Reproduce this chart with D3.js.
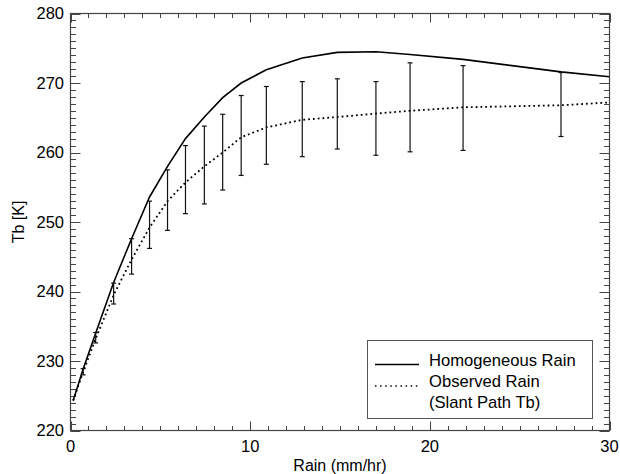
<!DOCTYPE html>
<html>
<head>
<meta charset="utf-8">
<script src="https://cdn.jsdelivr.net/npm/d3@7"></script>
<style>
  html, body { margin: 0; padding: 0; background: #fff; }
  svg { display: block; }
  text { font-family: "Liberation Sans", Arial, Helvetica, sans-serif; fill: #000; }
</style>
</head>
<body>
<svg id="chart" width="620" height="474"></svg>
<script>
// ---- data ----
const rain = [0.15, 0.7, 1.4, 2.4, 3.4, 4.4, 5.4, 6.4, 7.45, 8.47, 9.5, 10.9, 12.9, 14.85, 17.0, 18.9, 21.85, 27.3, 30];
const homogeneous = [224.3, 228.8, 234.0, 241.3, 247.6, 253.6, 258.0, 262.0, 265.1, 267.9, 270.0, 271.9, 273.6, 274.4, 274.5, 274.1, 273.4, 271.6, 270.9];
const observed = [224.3, 228.4, 233.2, 239.5, 244.6, 249.2, 253.0, 255.7, 258.0, 260.0, 262.2, 263.6, 264.7, 265.1, 265.6, 266.0, 266.5, 266.8, 267.2];

const errRain = [0.7, 1.4, 2.4, 3.4, 4.4, 5.4, 6.4, 7.45, 8.47, 9.5, 10.9, 12.9, 14.85, 17.0, 18.9, 21.85, 27.3];
const errHigh = [228.9, 234.1, 241.2, 247.6, 253.0, 257.5, 261.0, 263.8, 265.5, 268.2, 269.5, 270.2, 270.6, 270.2, 272.9, 272.5, 271.5];
const errLow  = [228.0, 232.6, 238.2, 242.5, 246.2, 248.8, 251.2, 252.6, 254.6, 256.7, 258.3, 259.4, 260.5, 259.6, 260.1, 260.3, 262.3];

const xTicks = [0, 10, 20, 30];
const yTicks = [220, 230, 240, 250, 260, 270, 280];
const legendLabels = ["Homogeneous Rain", "Observed Rain", "(Slant Path Tb)"];
const xTitle = "Rain (mm/hr)";
const yTitle = "Tb [K]";

// ---- layout ----
const svg = d3.select("#chart");
const L = 70.5, R = 609.5, T = 13.5, B = 430.5;
const x = d3.scaleLinear().domain([0, 30]).range([L, R]);
const y = d3.scaleLinear().domain([220, 280]).range([B, T]);
const frameColor = "#444";

// minor + major ticks on all four sides
const xMinor = d3.range(0, 31, 1);
const yMinor = d3.range(220, 281, 1);

function tickLen(v, majors, maj, min) { return majors.includes(v) ? maj : min; }

const g = svg.append("g");
// bottom
g.selectAll(".xb").data(xMinor).enter().append("line")
  .attr("x1", d => Math.round(x(d)) + 0.5).attr("x2", d => Math.round(x(d)) + 0.5)
  .attr("y1", B).attr("y2", d => B - tickLen(d, xTicks, 9, 4.5))
  .attr("stroke", frameColor).attr("stroke-width", 1);
// top
g.selectAll(".xt").data(xMinor).enter().append("line")
  .attr("x1", d => Math.round(x(d)) + 0.5).attr("x2", d => Math.round(x(d)) + 0.5)
  .attr("y1", T).attr("y2", d => T + tickLen(d, xTicks, 9, 4.5))
  .attr("stroke", frameColor).attr("stroke-width", 1);
// left
g.selectAll(".yl").data(yMinor).enter().append("line")
  .attr("y1", d => Math.round(y(d)) + 0.5).attr("y2", d => Math.round(y(d)) + 0.5)
  .attr("x1", L).attr("x2", d => L + tickLen(d, yTicks, 10, 5.5))
  .attr("stroke", frameColor).attr("stroke-width", 1);
// right
g.selectAll(".yr").data(yMinor).enter().append("line")
  .attr("y1", d => Math.round(y(d)) + 0.5).attr("y2", d => Math.round(y(d)) + 0.5)
  .attr("x1", R).attr("x2", d => R - tickLen(d, yTicks, 10, 5.5))
  .attr("stroke", frameColor).attr("stroke-width", 1);

// frame
svg.append("rect").attr("x", L).attr("y", T).attr("width", R - L).attr("height", B - T)
  .attr("fill", "none").attr("stroke", frameColor).attr("stroke-width", 1.2);

// tick labels
svg.selectAll(".xl").data(xTicks).enter().append("text")
  .attr("x", d => x(d)).attr("y", 452)
  .attr("text-anchor", "middle").attr("font-size", 16.5).text(d => d);
svg.selectAll(".ylab").data(yTicks).enter().append("text")
  .attr("x", 64).attr("y", d => y(d)).attr("dy", "0.36em")
  .attr("text-anchor", "end").attr("font-size", 16.5).text(d => d);

// axis titles
svg.append("text").attr("x", (L + R) / 2).attr("y", 471)
  .attr("text-anchor", "middle").attr("font-size", 16).text(xTitle);
svg.append("text").attr("transform", `translate(24,${(T + B) / 2}) rotate(-90)`)
  .attr("text-anchor", "middle").attr("font-size", 16).text(yTitle);

// lines
const line = d3.line().x(d => x(d[0])).y(d => y(d[1]));
svg.append("clipPath").attr("id", "plotclip")
  .append("rect").attr("x", L).attr("y", T).attr("width", R - L).attr("height", B - T);

svg.append("path").datum(rain.map((r, i) => [r, homogeneous[i]]))
  .attr("d", line).attr("fill", "none").attr("stroke", "#000").attr("stroke-width", 1.6)
  .attr("clip-path", "url(#plotclip)");
svg.append("path").datum(rain.map((r, i) => [r, observed[i]]))
  .attr("d", line).attr("fill", "none").attr("stroke", "#000").attr("stroke-width", 1.8)
  .attr("stroke-dasharray", "1.8,3").attr("clip-path", "url(#plotclip)");

// error bars
const eb = svg.append("g").attr("stroke", "#111").attr("stroke-width", 1.2);
errRain.forEach((r, i) => {
  const cx = x(r);
  eb.append("line").attr("x1", cx).attr("x2", cx).attr("y1", y(errHigh[i])).attr("y2", y(errLow[i]));
  eb.append("line").attr("x1", cx - 2.5).attr("x2", cx + 2.5).attr("y1", y(errHigh[i])).attr("y2", y(errHigh[i]));
  eb.append("line").attr("x1", cx - 2.5).attr("x2", cx + 2.5).attr("y1", y(errLow[i])).attr("y2", y(errLow[i]));
});

// legend
const lg = svg.append("g");
lg.append("rect").attr("x", 367.5).attr("y", 340.5).attr("width", 225).attr("height", 78)
  .attr("fill", "#fff").attr("stroke", "#555").attr("stroke-width", 1);
lg.append("line").attr("x1", 375).attr("x2", 419).attr("y1", 364.5).attr("y2", 364.5)
  .attr("stroke", "#000").attr("stroke-width", 1.6);
lg.append("line").attr("x1", 375).attr("x2", 419).attr("y1", 386).attr("y2", 386)
  .attr("stroke", "#000").attr("stroke-width", 1.6).attr("stroke-dasharray", "1.5,3.6");
lg.selectAll(".lt").data(legendLabels).enter().append("text")
  .attr("x", 429).attr("y", (d, i) => 366 + i * 21)
  .attr("font-size", 16.6).text(d => d);
</script>
</body>
</html>
